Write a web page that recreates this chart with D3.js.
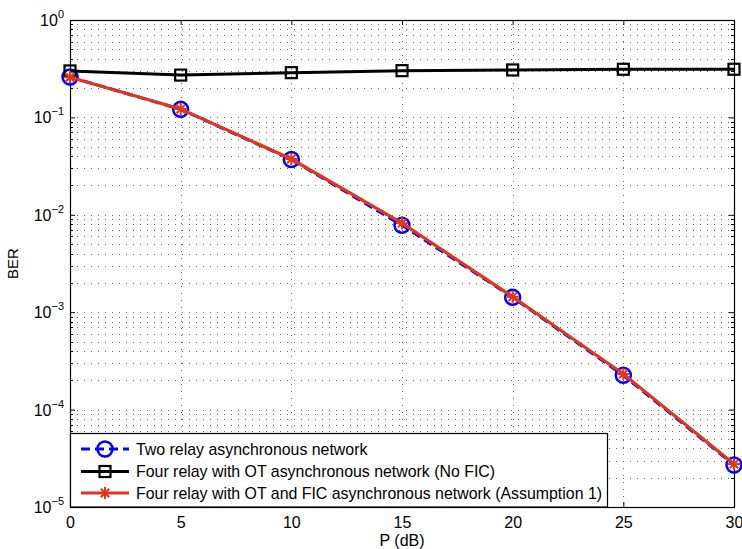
<!DOCTYPE html>
<html>
<head>
<meta charset="utf-8">
<script src="https://cdn.jsdelivr.net/npm/d3@7"></script>
<style>
  body { margin: 0; background: #fff; }
  svg { display: block; font-family: "Liberation Sans", Arial, sans-serif; }
</style>
</head>
<body>
<div id="chart"></div>
<script>
// -DATA-
const pdb = [0, 5, 10, 15, 20, 25, 30];
const berTwoRelay = [0.26, 0.121, 0.037, 0.0078, 0.00142, 2.25e-4, 2.7e-5];
const berNoFic = [0.30, 0.272, 0.288, 0.302, 0.307, 0.312, 0.312];
const berFic = [0.258, 0.122, 0.0374, 0.0082, 0.00144, 2.32e-4, 2.76e-5];
const xTicks = [0, 5, 10, 15, 20, 25, 30];
const yExps = [0, -1, -2, -3, -4, -5];
const seriesNames = [
  "Two relay asynchronous network",
  "Four relay with OT asynchronous network (No FIC)",
  "Four relay with OT and FIC asynchronous network (Assumption 1)"
];

// -SIZES-
const w = 742, h = 549;
const m = {left: 70, top: 20, right: 8, bottom: 42};
const blue = "#0000ff", black = "#000000", red = "#e0361a";

const svg = d3.select("#chart").append("svg").attr("width", w).attr("height", h);

const x = d3.scaleLinear().domain([0, 30]).range([m.left, w - m.right]);
const y = d3.scaleLog().domain([1e-5, 1]).range([h - m.bottom, m.top]);

// minor values for grid
const minorVals = [];
for (let e = -5; e < 0; e++) for (let k = 1; k <= 9; k++) minorVals.push(k * Math.pow(10, e));
minorVals.push(1);

// -GRID-
const grid = svg.append("g").attr("stroke", "#000").attr("stroke-width", 1)
  .attr("stroke-dasharray", "1,6").attr("opacity", 0.6);
grid.selectAll(".hg").data(minorVals.filter(v => v < 1 && v > 1e-5)).enter().append("line")
  .attr("x1", m.left).attr("x2", w - m.right)
  .attr("y1", d => Math.round(y(d)) + 0.5).attr("y2", d => Math.round(y(d)) + 0.5);
grid.selectAll(".vg").data(xTicks.slice(1, -1)).enter().append("line")
  .attr("y1", m.top).attr("y2", h - m.bottom)
  .attr("x1", d => Math.round(x(d)) + 0.5).attr("x2", d => Math.round(x(d)) + 0.5);

// -AXES-
const xAxis = svg.append("g").attr("transform", `translate(0,${h - m.bottom})`)
  .call(d3.axisBottom(x).tickValues(xTicks).tickSizeInner(-5).tickSizeOuter(0).tickPadding(10));
xAxis.select(".domain").remove();
xAxis.selectAll("text").attr("font-size", 16).attr("fill", "#000").attr("font-family", "Liberation Sans, Arial");

const xTop = svg.append("g").attr("transform", `translate(0,${m.top})`)
  .call(d3.axisTop(x).tickValues(xTicks).tickSizeInner(-5).tickSizeOuter(0).tickFormat(""));
xTop.select(".domain").remove();

const yAxis = svg.append("g").attr("transform", `translate(${m.left},0)`)
  .call(d3.axisLeft(y).tickValues(yExps.map(e => Math.pow(10, e))).tickSizeInner(-5).tickSizeOuter(0).tickFormat(""));
yAxis.select(".domain").remove();
const yRight = svg.append("g").attr("transform", `translate(${w - m.right},0)`)
  .call(d3.axisRight(y).tickValues(yExps.map(e => Math.pow(10, e))).tickSizeInner(-5).tickSizeOuter(0).tickFormat(""));
yRight.select(".domain").remove();

// minor ticks
const minorOnly = minorVals.filter(v => Math.abs(Math.log10(v) - Math.round(Math.log10(v))) > 1e-6);
svg.append("g").selectAll("line").data(minorOnly).enter().append("line")
  .attr("x1", m.left).attr("x2", m.left + 3)
  .attr("y1", d => Math.round(y(d)) + 0.5).attr("y2", d => Math.round(y(d)) + 0.5)
  .attr("stroke", "#000");
svg.append("g").selectAll("line").data(minorOnly).enter().append("line")
  .attr("x1", w - m.right).attr("x2", w - m.right - 3)
  .attr("y1", d => Math.round(y(d)) + 0.5).attr("y2", d => Math.round(y(d)) + 0.5)
  .attr("stroke", "#000");

// y labels 10^e
const yl = svg.append("g").selectAll("text").data(yExps).enter().append("text")
  .attr("x", m.left - 6).attr("y", d => y(Math.pow(10, d)) + 6)
  .attr("text-anchor", "end").attr("font-size", 16);
yl.append("tspan").text("10");
yl.append("tspan").attr("dy", -8).attr("font-size", 11).text(d => d === 0 ? "0" : "\u2212" + (-d));

// box
svg.append("rect").attr("x", m.left + 0.5).attr("y", m.top + 0.5)
  .attr("width", w - m.left - m.right).attr("height", h - m.top - m.bottom)
  .attr("fill", "none").attr("stroke", "#000").attr("stroke-width", 1.2);

// axis titles
svg.append("text").attr("x", x(15)).attr("y", 546).attr("text-anchor", "middle")
  .attr("font-size", 16).text("P (dB)");
svg.append("text").attr("transform", `translate(18,${y(Math.pow(10, -2.5))}) rotate(-90)`)
  .attr("text-anchor", "middle").attr("font-size", 15).text("BER");

// -LINES-
const line = d3.line().x(d => x(d[0])).y(d => y(d[1]));
const zip = vals => pdb.map((p, i) => [p, vals[i]]);

function circleMarker(g, cx, cy) {
  g.append("circle").attr("cx", cx).attr("cy", cy).attr("r", 7.5)
    .attr("fill", "none").attr("stroke", blue).attr("stroke-width", 2.5);
}
function squareMarker(g, cx, cy) {
  g.append("rect").attr("x", cx - 5.5).attr("y", cy - 5.5).attr("width", 11).attr("height", 11)
    .attr("fill", "none").attr("stroke", black).attr("stroke-width", 2.2);
}
function starMarker(g, cx, cy) {
  const r = 6;
  [[r, 0], [0, r], [r * 0.7, r * 0.7], [r * 0.7, -r * 0.7]].forEach(([dx, dy]) => {
    g.append("line").attr("x1", cx - dx).attr("y1", cy - dy).attr("x2", cx + dx).attr("y2", cy + dy)
      .attr("stroke", red).attr("stroke-width", 2);
  });
}

const series = [
  {vals: berTwoRelay, color: blue, dash: "9,5", width: 3, marker: circleMarker},
  {vals: berNoFic, color: black, dash: null, width: 3, marker: squareMarker},
  {vals: berFic, color: red, dash: null, width: 3.2, marker: starMarker}
];

series.forEach(s => {
  const g = svg.append("g");
  g.append("path").datum(zip(s.vals)).attr("d", line)
    .attr("fill", "none").attr("stroke", s.color).attr("stroke-width", s.width)
    .attr("stroke-dasharray", s.dash);
  zip(s.vals).forEach(d => s.marker(g, x(d[0]), y(d[1])));
});

// -LEGEND-
const lg = svg.append("g");
lg.append("rect").attr("x", m.left + 0.5).attr("y", 433.5).attr("width", 537).attr("height", h - m.bottom - 433.5)
  .attr("fill", "#fff").attr("stroke", "#000").attr("stroke-width", 1.2);
const rowY = [449, 471.5, 493];
series.forEach((s, i) => {
  lg.append("line").attr("x1", 81).attr("x2", 129).attr("y1", rowY[i]).attr("y2", rowY[i])
    .attr("stroke", s.color).attr("stroke-width", s.width).attr("stroke-dasharray", s.dash);
  s.marker(lg, 105, rowY[i]);
  lg.append("text").attr("x", 136).attr("y", rowY[i] + 5.5).attr("font-size", 15.9).text(seriesNames[i]);
});
</script>
</body>
</html>
